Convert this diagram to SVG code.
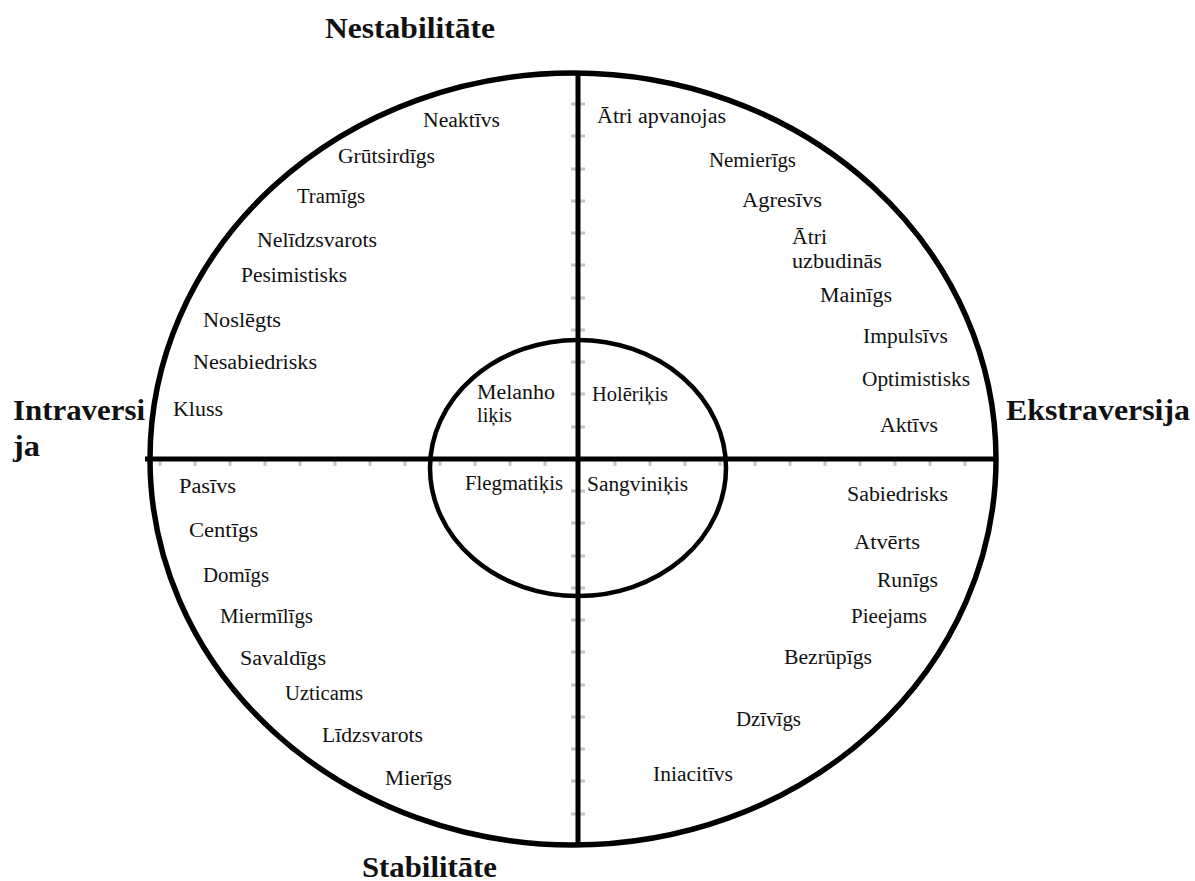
<svg xmlns="http://www.w3.org/2000/svg" width="1195" height="881" viewBox="0 0 1195 881">
<style>
.lbl{font-family:"Liberation Serif","Times New Roman",serif;font-size:20px;fill:#111;}
.ttl{font-family:"Liberation Serif","Times New Roman",serif;font-size:29px;font-weight:bold;fill:#111;}
.ring{fill:none;stroke:#000;}
.axis{stroke:#000;stroke-width:5;}
.tick{stroke:#c4c4c4;stroke-width:3;}
</style>
<rect width="1195" height="881" fill="#fff"/>
<g id="ticks">
<path class="tick" d="M571 104h14M571 136h14M571 169h14M571 201h14M571 233h14M571 265h14M571 298h14M571 330h14M571 362h14M571 394h14M571 427h14M571 491h14M571 523h14M571 556h14M571 588h14M571 620h14M571 652h14M571 685h14M571 717h14M571 749h14M571 781h14M571 814h14"/>
<path class="tick" d="M160 457v9M195 457v9M230 457v9M265 457v9M300 457v9M335 457v9M370 457v9M405 457v9M440 457v9M475 457v9M510 457v9M545 457v9M615 457v9M650 457v9M685 457v9M720 457v9M755 457v9M790 457v9M825 457v9M860 457v9M895 457v9M930 457v9M965 457v9"/>
</g>
<g id="outer-circle"><ellipse class="ring" cx="573" cy="459" rx="423" ry="386" stroke-width="5.5"/></g>
<g id="inner-circle"><ellipse class="ring" cx="578" cy="468" rx="148" ry="128" stroke-width="4.5"/></g>
<g id="connectors">
<line class="axis" x1="145" y1="459" x2="996" y2="459"/>
<line class="axis" x1="578" y1="73" x2="578" y2="846"/>
</g>
<g id="axis-labels">
<text id="t-nestab" class="ttl" x="325" y="38" textLength="170" lengthAdjust="spacingAndGlyphs">Nestabilitāte</text>
<text id="t-intra1" class="ttl" x="13" y="420" textLength="132" lengthAdjust="spacingAndGlyphs">Intraversi</text>
<text id="t-intra2" class="ttl" x="13" y="456" textLength="27" lengthAdjust="spacingAndGlyphs">ja</text>
<text id="t-ekstra" class="ttl" x="1006" y="420" textLength="184" lengthAdjust="spacingAndGlyphs">Ekstraversija</text>
<text id="t-stab" class="ttl" x="362" y="877" textLength="135" lengthAdjust="spacingAndGlyphs">Stabilitāte</text>
</g>
<g id="temperaments">
<g id="melanholikis"><text class="lbl" x="477" y="399" textLength="78" lengthAdjust="spacingAndGlyphs">Melanho</text><text class="lbl" x="477" y="422" textLength="35" lengthAdjust="spacingAndGlyphs">liķis</text></g>
<g id="holerikis"><text class="lbl" x="592" y="401" textLength="76" lengthAdjust="spacingAndGlyphs">Holēriķis</text></g>
<g id="flegmatikis"><text class="lbl" x="465" y="490" textLength="98" lengthAdjust="spacingAndGlyphs">Flegmatiķis</text></g>
<g id="sangvinikis"><text class="lbl" x="587" y="491" textLength="101" lengthAdjust="spacingAndGlyphs">Sangviniķis</text></g>
</g>
<g id="q-top-left">
<g id="n1"><text class="lbl" x="423" y="127" textLength="77" lengthAdjust="spacingAndGlyphs">Neaktīvs</text></g>
<g id="n2"><text class="lbl" x="338" y="163" textLength="97" lengthAdjust="spacingAndGlyphs">Grūtsirdīgs</text></g>
<g id="n3"><text class="lbl" x="297" y="203" textLength="68" lengthAdjust="spacingAndGlyphs">Tramīgs</text></g>
<g id="n4"><text class="lbl" x="257" y="247" textLength="120" lengthAdjust="spacingAndGlyphs">Nelīdzsvarots</text></g>
<g id="n5"><text class="lbl" x="241" y="282" textLength="106" lengthAdjust="spacingAndGlyphs">Pesimistisks</text></g>
<g id="n6"><text class="lbl" x="203" y="327" textLength="78" lengthAdjust="spacingAndGlyphs">Noslēgts</text></g>
<g id="n7"><text class="lbl" x="193" y="369" textLength="124" lengthAdjust="spacingAndGlyphs">Nesabiedrisks</text></g>
<g id="n8"><text class="lbl" x="173" y="416" textLength="50" lengthAdjust="spacingAndGlyphs">Kluss</text></g>
</g>
<g id="q-top-right">
<g id="n9"><text class="lbl" x="597" y="123" textLength="129" lengthAdjust="spacingAndGlyphs">Ātri apvanojas</text></g>
<g id="n10"><text class="lbl" x="709" y="167" textLength="87" lengthAdjust="spacingAndGlyphs">Nemierīgs</text></g>
<g id="n11"><text class="lbl" x="742" y="207" textLength="80" lengthAdjust="spacingAndGlyphs">Agresīvs</text></g>
<g id="n12"><text class="lbl" x="792" y="244" textLength="35" lengthAdjust="spacingAndGlyphs">Ātri</text><text class="lbl" x="792" y="268" textLength="90" lengthAdjust="spacingAndGlyphs">uzbudinās</text></g>
<g id="n13"><text class="lbl" x="820" y="302" textLength="72" lengthAdjust="spacingAndGlyphs">Mainīgs</text></g>
<g id="n14"><text class="lbl" x="863" y="343" textLength="85" lengthAdjust="spacingAndGlyphs">Impulsīvs</text></g>
<g id="n15"><text class="lbl" x="862" y="386" textLength="108" lengthAdjust="spacingAndGlyphs">Optimistisks</text></g>
<g id="n16"><text class="lbl" x="880" y="432" textLength="58" lengthAdjust="spacingAndGlyphs">Aktīvs</text></g>
</g>
<g id="q-bottom-left">
<g id="n17"><text class="lbl" x="179" y="493" textLength="57" lengthAdjust="spacingAndGlyphs">Pasīvs</text></g>
<g id="n18"><text class="lbl" x="189" y="537" textLength="69" lengthAdjust="spacingAndGlyphs">Centīgs</text></g>
<g id="n19"><text class="lbl" x="203" y="582" textLength="66" lengthAdjust="spacingAndGlyphs">Domīgs</text></g>
<g id="n20"><text class="lbl" x="220" y="623" textLength="93" lengthAdjust="spacingAndGlyphs">Miermīlīgs</text></g>
<g id="n21"><text class="lbl" x="240" y="665" textLength="86" lengthAdjust="spacingAndGlyphs">Savaldīgs</text></g>
<g id="n22"><text class="lbl" x="285" y="700" textLength="78" lengthAdjust="spacingAndGlyphs">Uzticams</text></g>
<g id="n23"><text class="lbl" x="322" y="742" textLength="101" lengthAdjust="spacingAndGlyphs">Līdzsvarots</text></g>
<g id="n24"><text class="lbl" x="385" y="785" textLength="67" lengthAdjust="spacingAndGlyphs">Mierīgs</text></g>
</g>
<g id="q-bottom-right">
<g id="n25"><text class="lbl" x="847" y="501" textLength="101" lengthAdjust="spacingAndGlyphs">Sabiedrisks</text></g>
<g id="n26"><text class="lbl" x="854" y="549" textLength="66" lengthAdjust="spacingAndGlyphs">Atvērts</text></g>
<g id="n27"><text class="lbl" x="877" y="587" textLength="61" lengthAdjust="spacingAndGlyphs">Runīgs</text></g>
<g id="n28"><text class="lbl" x="851" y="623" textLength="76" lengthAdjust="spacingAndGlyphs">Pieejams</text></g>
<g id="n29"><text class="lbl" x="784" y="664" textLength="88" lengthAdjust="spacingAndGlyphs">Bezrūpīgs</text></g>
<g id="n30"><text class="lbl" x="736" y="726" textLength="65" lengthAdjust="spacingAndGlyphs">Dzīvīgs</text></g>
<g id="n31"><text class="lbl" x="653" y="781" textLength="80" lengthAdjust="spacingAndGlyphs">Iniacitīvs</text></g>
</g>
</svg>
